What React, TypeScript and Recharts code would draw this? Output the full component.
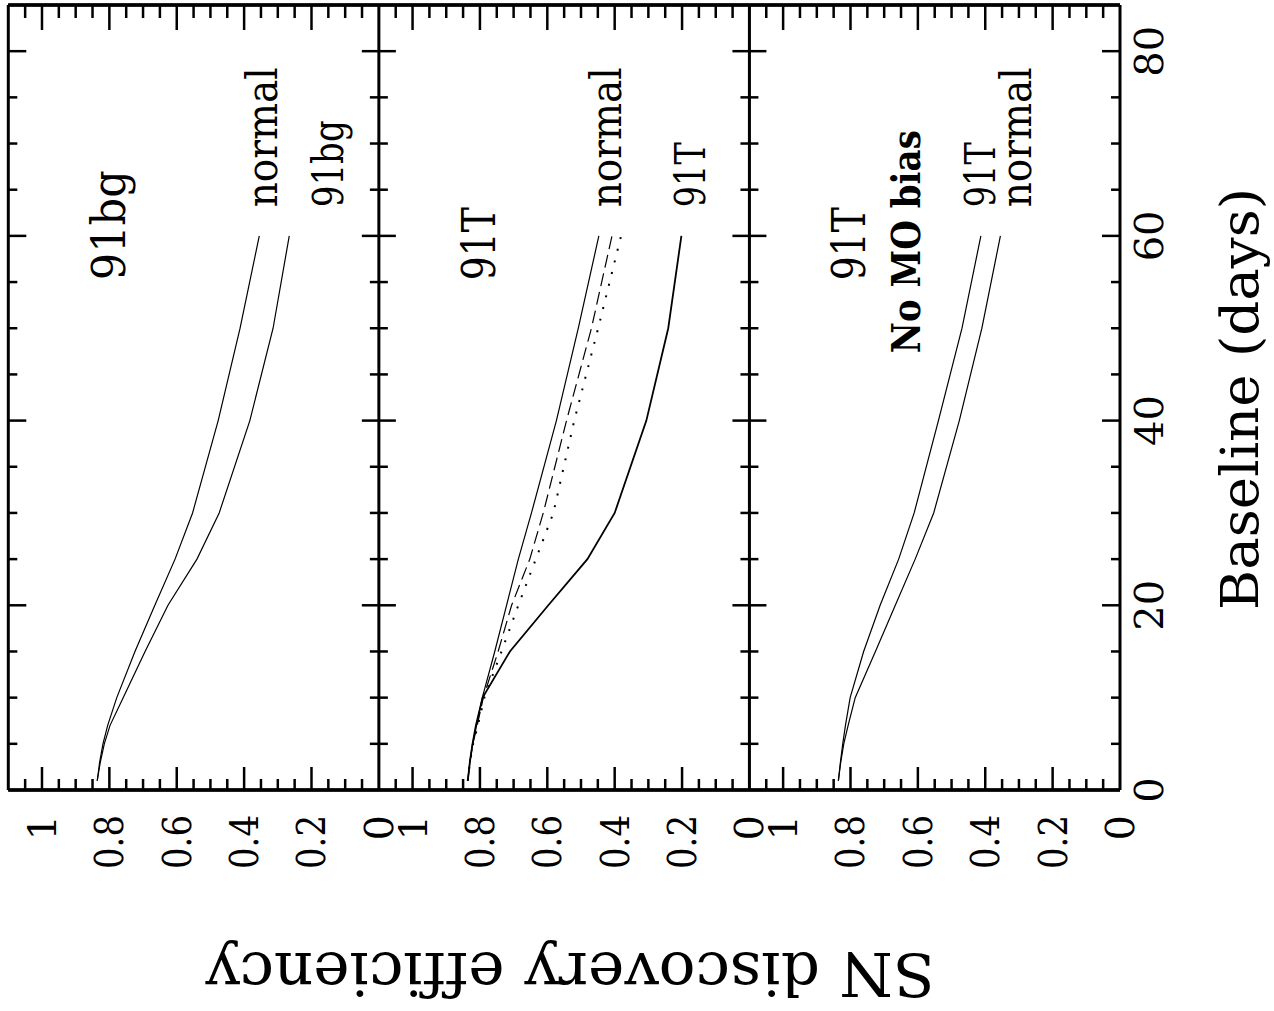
import React from 'react';
import { LineChart, Line, XAxis, YAxis, ReferenceLine, ReferenceDot } from 'recharts';

// ---- data (efficiency vs baseline in days) ----
const baseline = [1, 3, 5, 7, 10, 15, 20, 25, 30, 40, 50, 60];
const p1Normal = [0.836, 0.829, 0.819, 0.805, 0.778, 0.724, 0.665, 0.605, 0.553, 0.477, 0.412, 0.355];
const p1Bg = [0.836, 0.827, 0.815, 0.798, 0.759, 0.694, 0.626, 0.54, 0.474, 0.383, 0.314, 0.266];
const p2Normal = [0.836, 0.83, 0.822, 0.81, 0.793, 0.756, 0.721, 0.686, 0.647, 0.573, 0.508, 0.447];
const p2Dashed = [0.836, 0.83, 0.821, 0.808, 0.79, 0.746, 0.706, 0.652, 0.612, 0.543, 0.469, 0.408];
const p2Dotted = [0.836, 0.83, 0.82, 0.806, 0.787, 0.736, 0.686, 0.634, 0.582, 0.52, 0.449, 0.381];
const p2T = [0.836, 0.83, 0.822, 0.812, 0.792, 0.711, 0.597, 0.481, 0.4, 0.306, 0.241, 0.202];
const p3T = [0.836, 0.83, 0.823, 0.815, 0.801, 0.761, 0.712, 0.657, 0.611, 0.539, 0.469, 0.413];
const p3Normal = [0.836, 0.829, 0.82, 0.807, 0.786, 0.726, 0.667, 0.608, 0.553, 0.477, 0.41, 0.355];

// ---- ticks ----
const effTicks = [0, 0.05, 0.1, 0.15, 0.2, 0.25, 0.3, 0.35, 0.4, 0.45, 0.5, 0.55, 0.6, 0.65, 0.7, 0.75, 0.8, 0.85, 0.9, 0.95, 1, 1.05];
const effMajor = [0, 0.2, 0.4, 0.6, 0.8, 1];
const effMajorLabels = ['0', '0.2', '0.4', '0.6', '0.8', '1'];
const baseTicks = [0, 5, 10, 15, 20, 25, 30, 35, 40, 45, 50, 55, 60, 65, 70, 75, 80];
const baseMajor = [0, 20, 40, 60, 80];
const baseMajorLabels = ['0', '20', '40', '60', '80'];

const data = baseline.map((b, i) => ({
  b,
  p1n: p1Normal[i],
  p1g: p1Bg[i],
  p2n: p2Normal[i],
  p2d: p2Dashed[i],
  p2o: p2Dotted[i],
  p2t: p2T[i],
  p3t: p3T[i],
  p3n: p3Normal[i],
}));

// ---- text labels (anchor in data units of each panel) ----
const panelLabels = [
  { axis: 'p1', text: '91bg', e: 0.754, b: 55.2, size: 46, len: 110 },
  { axis: 'p1', text: 'normal', e: 0.302, b: 63.1, size: 42, len: 140 },
  { axis: 'p1', text: '91bg', e: 0.107, b: 63.1, size: 42, len: 87 },
  { axis: 'p2', text: '91T', e: 0.755, b: 55.2, size: 46, len: 73 },
  { axis: 'p2', text: 'normal', e: 0.381, b: 63.1, size: 42, len: 140 },
  { axis: 'p2', text: '91T', e: 0.132, b: 63.1, size: 42, len: 65 },
  { axis: 'p3', text: '91T', e: 0.757, b: 55.2, size: 46, len: 73 },
  { axis: 'p3', text: 'No MO bias', e: 0.594, b: 47.3, size: 40, len: 223, bold: true },
  { axis: 'p3', text: '91T', e: 0.371, b: 63.1, size: 42, len: 65 },
  { axis: 'p3', text: 'normal', e: 0.264, b: 63.1, size: 42, len: 140 },
];

const FONT = 'DejaVu Serif';
const INK = '#000';
const MAJOR_SIDE = 0.0505; // tick length in efficiency units (divider ticks)
const MINOR_SIDE = 0.0267;
const THIN = 0.01; // axis thickness so mirrored axes do not stack

const near = (a: number, b: number) => Math.abs(a - b) < 1e-6;
const effLabel = (v: number) => {
  const i = effMajor.findIndex((m) => near(m, v));
  return i >= 0 ? effMajorLabels[i] : null;
};
const baseLabel = (v: number) => {
  const i = baseMajor.findIndex((m) => near(m, v));
  return i >= 0 ? baseMajorLabels[i] : null;
};

const BottomTick = (props: any) => {
  const { x, y, payload } = props;
  const v = payload.value;
  const lab = effLabel(v);
  const len = near(v, 0) ? 0 : lab ? 23 : 11;
  return (
    <g>
      {len > 0 && <line x1={x} y1={y} x2={x} y2={y - len} stroke={INK} strokeWidth={2.5} />}
      {lab && (
        <text
          transform={`translate(${x + 14},${y + 25}) rotate(-90)`}
          textAnchor="end"
          fontFamily={FONT}
          fontSize={40}
          fill={INK}
          {...(lab.length > 2 ? { textLength: 54, lengthAdjust: 'spacingAndGlyphs' } : {})}
        >
          {lab}
        </text>
      )}
    </g>
  );
};

const TopTick = (props: any) => {
  const { x, y, payload } = props;
  const v = payload.value;
  const lab = effLabel(v);
  const len = near(v, 0) ? 0 : lab ? 25 : 13;
  return <g>{len > 0 && <line x1={x} y1={y} x2={x} y2={y + len} stroke={INK} strokeWidth={2.5} />}</g>;
};

const LeftTick = (props: any) => {
  const { x, y, payload } = props;
  const v = payload.value;
  if (near(v, 0)) return <g />;
  const len = baseLabel(v) ? 18 : 9;
  return <line x1={x} y1={y} x2={x + len} y2={y} stroke={INK} strokeWidth={2.5} />;
};

const RightTick = (props: any) => {
  const { x, y, payload } = props;
  const v = payload.value;
  const lab = baseLabel(v);
  const len = near(v, 0) ? 0 : lab ? 18 : 9;
  return (
    <g>
      {len > 0 && <line x1={x} y1={y} x2={x - len} y2={y} stroke={INK} strokeWidth={2.5} />}
      {lab && (
        <text
          transform={`translate(${x + 43},${y}) rotate(-90)`}
          textAnchor="middle"
          fontFamily={FONT}
          fontSize={40}
          fill={INK}
        >
          {lab}
        </text>
      )}
    </g>
  );
};

const rotText = (text: string, size: number, len: number, bold?: boolean, angle = -90) => (p: any) => (
  <text
    transform={`translate(${p.cx},${p.cy}) rotate(${angle})`}
    textAnchor="start"
    fontFamily={FONT}
    fontSize={size}
    fontWeight={bold ? 'bold' : 'normal'}
    fill={INK}
    textLength={len}
    lengthAdjust="spacingAndGlyphs"
    style={{ fontVariantLigatures: 'none' }}
  >
    {text}
  </text>
);

const xAxisDomains: Record<string, [number, number]> = {
  p1: [-2.2, 1.1],
  p2: [-1.1, 2.2],
  p3: [0, 3.3],
};

export default function App() {
  const dividerTicks: React.ReactNode[] = [];
  baseTicks.forEach((b) => {
    if (near(b, 0)) return;
    const L = baseLabel(b) ? MAJOR_SIDE : MINOR_SIDE;
    const segs: [string, number, number][] = [
      ['p1', 0, L],
      ['p2', 1.1, 1.1 - L],
      ['p2', 0, L],
      ['p3', 1.1, 1.1 - L],
    ];
    segs.forEach(([ax, a, c], k) => {
      dividerTicks.push(
        <ReferenceLine
          key={`dt-${b}-${k}`}
          xAxisId={ax}
          yAxisId="bl"
          segment={[{ x: a, y: b }, { x: c, y: b }]}
          stroke={INK}
          strokeWidth={2.5}
        />
      );
    });
  });

  return (
    <div style={{ position: 'absolute', left: 0, top: 0, width: 1274, height: 1011, background: '#fff' }}>
      <LineChart
        width={1274}
        height={1011}
        layout="vertical"
        data={data}
        margin={{ top: 5, right: 154, bottom: 221, left: 8.3 }}
      >
        {(['p1', 'p2', 'p3'] as const).map((id) => (
          <XAxis
            key={id}
            xAxisId={id}
            type="number"
            domain={xAxisDomains[id]}
            allowDataOverflow
            reversed
            orientation="bottom"
            mirror
            height={THIN}
            ticks={effTicks}
            interval={0}
            tickSize={0}
            tickMargin={0}
            tickLine={false}
            axisLine={{ stroke: INK, strokeWidth: 3 }}
            tick={(p: any) => <BottomTick {...p} />}
          />
        ))}
        {(['p1', 'p2', 'p3'] as const).map((id) => (
          <XAxis
            key={`${id}t`}
            xAxisId={`${id}t`}
            type="number"
            domain={xAxisDomains[id]}
            allowDataOverflow
            reversed
            orientation="top"
            mirror
            height={THIN}
            ticks={effTicks}
            interval={0}
            tickSize={0}
            tickMargin={0}
            tickLine={false}
            axisLine={{ stroke: INK, strokeWidth: 3 }}
            tick={(p: any) => <TopTick {...p} />}
          />
        ))}
        <YAxis
          yAxisId="bl"
          type="number"
          dataKey="b"
          domain={[0, 85]}
          allowDataOverflow
          reversed
          orientation="left"
          mirror
          width={THIN}
          ticks={baseTicks}
          interval={0}
          tickSize={0}
          tickMargin={0}
          tickLine={false}
          axisLine={{ stroke: INK, strokeWidth: 3 }}
          tick={(p: any) => <LeftTick {...p} />}
        />
        <YAxis
          yAxisId="br"
          type="number"
          dataKey="b"
          domain={[0, 85]}
          allowDataOverflow
          reversed
          orientation="right"
          mirror
          width={THIN}
          ticks={baseTicks}
          interval={0}
          tickSize={0}
          tickMargin={0}
          tickLine={false}
          axisLine={{ stroke: INK, strokeWidth: 3 }}
          tick={(p: any) => <RightTick {...p} />}
        />

        <ReferenceLine xAxisId="p1" yAxisId="bl" x={0} stroke={INK} strokeWidth={3} />
        <ReferenceLine xAxisId="p2" yAxisId="bl" x={0} stroke={INK} strokeWidth={3} />
        {dividerTicks}

        <Line xAxisId="p1" yAxisId="bl" dataKey="p1n" type="linear" stroke={INK} strokeWidth={1.2} dot={false} isAnimationActive={false} />
        <Line xAxisId="p1" yAxisId="bl" dataKey="p1g" type="linear" stroke={INK} strokeWidth={1.2} dot={false} isAnimationActive={false} />
        <Line xAxisId="p2" yAxisId="bl" dataKey="p2n" type="linear" stroke={INK} strokeWidth={1.2} dot={false} isAnimationActive={false} />
        <Line xAxisId="p2" yAxisId="bl" dataKey="p2d" type="linear" stroke={INK} strokeWidth={1.2} strokeDasharray="13 6" dot={false} isAnimationActive={false} />
        <Line xAxisId="p2" yAxisId="bl" dataKey="p2o" type="linear" stroke={INK} strokeWidth={2} strokeDasharray="2 10" dot={false} isAnimationActive={false} />
        <Line xAxisId="p2" yAxisId="bl" dataKey="p2t" type="linear" stroke={INK} strokeWidth={1.8} dot={false} isAnimationActive={false} />
        <Line xAxisId="p3" yAxisId="bl" dataKey="p3t" type="linear" stroke={INK} strokeWidth={1.2} dot={false} isAnimationActive={false} />
        <Line xAxisId="p3" yAxisId="bl" dataKey="p3n" type="linear" stroke={INK} strokeWidth={1.2} dot={false} isAnimationActive={false} />

        {panelLabels.map((l, i) => (
          <ReferenceDot
            key={`lab-${i}`}
            xAxisId={l.axis}
            yAxisId="bl"
            x={l.e}
            y={l.b}
            r={0}
            ifOverflow="visible"
            shape={rotText(l.text, l.size, l.len, l.bold)}
          />
        ))}
        <ReferenceDot
          xAxisId="p3"
          yAxisId="bl"
          x={-0.41}
          y={19.5}
          r={0}
          ifOverflow="visible"
          shape={rotText('Baseline (days)', 52, 422)}
        />
        <ReferenceDot
          xAxisId="p2"
          yAxisId="bl"
          x={-0.551}
          y={-17.65}
          r={0}
          ifOverflow="visible"
          shape={rotText('SN discovery efficiency', 60, 730, false, 180)}
        />
      </LineChart>
    </div>
  );
}
